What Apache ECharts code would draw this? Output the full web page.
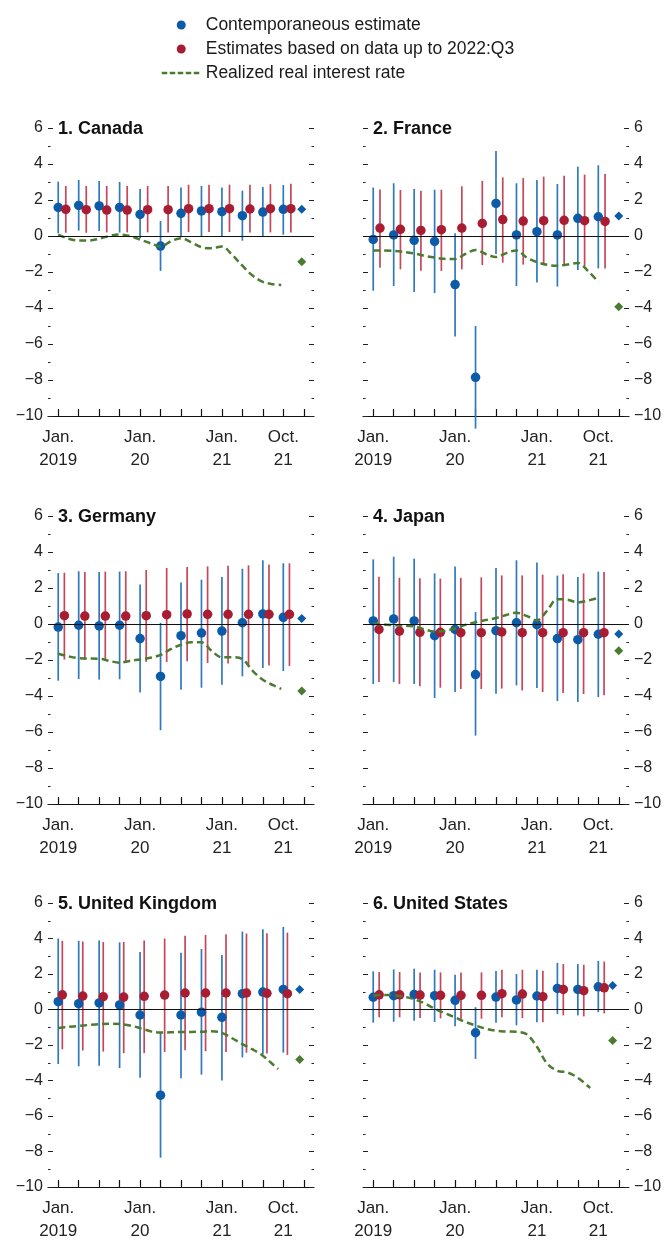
<!DOCTYPE html>
<html><head><meta charset="utf-8">
<script src="https://cdn.jsdelivr.net/npm/echarts@6/dist/echarts.min.js"></script>
<style>html,body{margin:0;padding:0;background:#fff}#c{width:666px;height:1243px}</style>
</head><body><div id="c"></div>
<script>
// ---------- axis data ----------
const tickPositions = [0,1,2,3,4,5,6,7,8,9,10,11,12]; // 2019:Q1 ... 2022:Q1
const labelPositions = [0,4,8,11];
const labelTexts = ['Jan.\n2019','Jan.\n20','Jan.\n21','Oct.\n21'];
const panelTitles = ['1. Canada','2. France','3. Germany','4. Japan','5. United Kingdom','6. United States'];
const legendNames = ['Contemporaneous estimate','Estimates based on data up to 2022:Q3','Realized real interest rate'];

// ---------- Canada ----------
const canadaBlue   = [1.59, 1.70, 1.67, 1.59, 1.20, -0.56, 1.26, 1.39, 1.35, 1.13, 1.33, 1.48];
const canadaBlueLo = [0.15, 0.30, 0.28, 0.19, -0.13, -1.94, -0.07, 0.00, 0.00, -0.26, -0.04, 0.07];
const canadaBlueHi = [3.02, 3.11, 3.06, 3.00, 2.61, 0.83, 2.69, 2.78, 2.70, 2.52, 2.72, 2.83];
const canadaRed    = [1.48, 1.46, 1.44, 1.44, 1.46, 1.46, 1.52, 1.52, 1.52, 1.50, 1.52, 1.52];
const canadaRedLo  = [0.18, 0.18, 0.20, 0.20, 0.20, 0.20, 0.22, 0.22, 0.22, 0.20, 0.20, 0.20];
const canadaRedHi  = [2.78, 2.78, 2.78, 2.78, 2.78, 2.78, 2.85, 2.85, 2.85, 2.85, 2.88, 2.90];
const canadaLatest = [1.48, -1.43]; // [estimate, realized] 2022:Q1
const canadaRealized = [[0,0.08],[0.5,-0.15],[1,-0.25],[1.5,-0.25],[2,-0.15],[2.5,0.0],[3,0.08],[3.5,0.0],[4,-0.2],[4.5,-0.4],[5,-0.58],[5.5,-0.3],[6,-0.12],[6.5,-0.35],[7,-0.62],[7.5,-0.68],[8,-0.58],[8.5,-1.05],[9,-1.65],[9.5,-2.2],[10,-2.55],[10.5,-2.68],[10.9,-2.72]];

// ---------- France ----------
const franceBlue   = [-0.19, 0.06, -0.24, -0.30, -2.70, -7.85, 1.81, 0.06, 0.24, 0.06, 0.98, 1.07];
const franceBlueLo = [-3.04, -2.78, -3.11, -3.17, -5.59, -10.7, -1.00, -2.78, -2.59, -2.81, -1.89, -1.80];
const franceBlueHi = [2.69, 2.93, 2.61, 2.57, 0.15, -5.00, 4.72, 2.93, 3.11, 2.89, 3.85, 3.93];
const franceRed    = [0.44, 0.37, 0.31, 0.35, 0.44, 0.70, 0.91, 0.83, 0.85, 0.87, 0.85, 0.81];
const franceRedLo  = [-1.76, -1.85, -1.93, -1.94, -1.85, -1.61, -1.48, -1.59, -1.52, -1.63, -1.67, -1.80];
const franceRedHi  = [2.59, 2.56, 2.52, 2.57, 2.76, 3.06, 3.26, 3.22, 3.30, 3.35, 3.41, 3.44];
const franceLatest = [1.11, -3.93];
const franceRealized = [[0,-0.8],[1,-0.83],[2,-0.97],[2.5,-1.1],[3,-1.2],[3.5,-1.27],[4,-1.28],[4.5,-1.0],[5,-0.78],[5.5,-1.0],[6,-1.17],[6.5,-0.95],[7,-0.8],[7.5,-1.2],[8,-1.45],[8.5,-1.6],[9,-1.65],[9.5,-1.58],[10,-1.5],[10.5,-1.95],[11,-2.55]];

// ---------- Germany ----------
const germanyBlue   = [-0.17, -0.07, -0.11, -0.07, -0.81, -2.91, -0.65, -0.50, -0.39, 0.07, 0.56, 0.37];
const germanyBlueLo = [-3.15, -3.06, -3.09, -3.07, -3.81, -5.90, -3.65, -3.54, -3.37, -2.91, -2.44, -2.61];
const germanyBlueHi = [2.83, 2.93, 2.89, 2.91, 2.19, 0.07, 2.30, 2.46, 2.61, 3.07, 3.54, 3.37];
const germanyRed    = [0.46, 0.44, 0.44, 0.44, 0.46, 0.52, 0.56, 0.54, 0.54, 0.54, 0.54, 0.54];
const germanyRedLo  = [-1.98, -1.98, -2.04, -2.07, -2.11, -2.11, -2.07, -2.17, -2.20, -2.26, -2.30, -2.33];
const germanyRedHi  = [2.85, 2.89, 2.91, 2.93, 3.00, 3.11, 3.17, 3.20, 3.24, 3.26, 3.31, 3.37];
const germanyLatest = [0.31, -3.72];
const germanyRealized = [[0,-1.65],[0.5,-1.8],[1,-1.9],[2,-1.93],[2.5,-2.05],[3,-2.15],[3.5,-2.05],[4,-1.97],[4.5,-1.88],[5,-1.72],[5.5,-1.4],[6,-1.15],[6.5,-1.02],[7,-1.02],[7.5,-1.5],[8,-1.85],[8.5,-1.85],[9,-1.95],[9.5,-2.6],[10,-3.1],[10.5,-3.4],[10.9,-3.6]];

// ---------- Japan ----------
const japanBlue   = [0.17, 0.28, 0.17, -0.65, -0.30, -2.81, -0.37, 0.07, -0.04, -0.81, -0.87, -0.57];
const japanBlueLo = [-3.33, -3.22, -3.33, -4.11, -3.78, -6.20, -3.87, -3.41, -3.56, -4.28, -4.33, -4.06];
const japanBlueHi = [3.59, 3.74, 3.63, 2.81, 3.19, 0.67, 3.11, 3.54, 3.41, 2.69, 2.61, 2.91];
const japanRed    = [-0.30, -0.39, -0.46, -0.46, -0.48, -0.48, -0.44, -0.48, -0.48, -0.48, -0.48, -0.48];
const japanRedLo  = [-3.22, -3.33, -3.46, -3.54, -3.61, -3.61, -3.59, -3.69, -3.78, -3.83, -3.89, -3.96];
const japanRedHi  = [2.63, 2.57, 2.54, 2.52, 2.56, 2.59, 2.70, 2.70, 2.74, 2.76, 2.81, 2.89];
const japanLatest = [-0.56, -1.48];
const japanRealized = [[0,0.02],[1,-0.07],[2,-0.13],[2.5,-0.3],[3,-0.42],[3.5,-0.38],[4,-0.25],[4.5,-0.05],[5,0.1],[5.5,0.22],[6,0.33],[6.5,0.5],[7,0.63],[7.5,0.45],[8,0.2],[8.5,0.75],[9,1.38],[9.5,1.35],[10,1.2],[10.5,1.3],[11,1.45]];

// ---------- United Kingdom ----------
const ukBlue   = [0.44, 0.33, 0.37, 0.26, -0.31, -4.83, -0.31, -0.15, -0.44, 0.89, 0.98, 1.13];
const ukBlueLo = [-3.07, -3.20, -3.17, -3.30, -3.85, -8.35, -3.87, -3.67, -4.00, -2.70, -2.52, -2.43];
const ukBlueHi = [4.00, 3.87, 3.89, 3.78, 3.24, -1.33, 3.20, 3.41, 3.07, 4.39, 4.52, 4.65];
const ukRed    = [0.83, 0.76, 0.72, 0.70, 0.74, 0.81, 0.93, 0.93, 0.93, 0.93, 0.91, 0.89];
const ukRedLo  = [-2.24, -2.31, -2.37, -2.46, -2.46, -2.39, -2.30, -2.35, -2.39, -2.43, -2.48, -2.56];
const ukRedHi  = [3.87, 3.83, 3.80, 3.81, 3.89, 4.00, 4.15, 4.20, 4.24, 4.28, 4.30, 4.33];
const ukLatest = [1.13, -2.81];
const ukRealized = [[0,-1.04],[0.5,-0.98],[1,-0.93],[1.5,-0.87],[2,-0.82],[2.5,-0.8],[3,-0.82],[3.5,-0.9],[4,-1.05],[4.5,-1.22],[5,-1.3],[6,-1.27],[7,-1.25],[7.5,-1.22],[8,-1.32],[8.5,-1.62],[9,-1.95],[9.5,-2.25],[10,-2.6],[10.4,-3.0],[10.75,-3.35]];

// ---------- United States ----------
const usBlue   = [0.69, 0.78, 0.85, 0.78, 0.52, -1.31, 0.70, 0.54, 0.76, 1.19, 1.13, 1.28];
const usBlueLo = [-0.74, -0.69, -0.63, -0.70, -0.94, -2.78, -0.74, -0.89, -0.72, -0.26, -0.33, -0.15];
const usBlueHi = [2.15, 2.26, 2.30, 2.24, 1.96, 0.13, 2.17, 2.00, 2.24, 2.63, 2.56, 2.74];
const usRed    = [0.83, 0.83, 0.81, 0.80, 0.80, 0.80, 0.89, 0.87, 0.72, 1.13, 1.06, 1.22];
const usRedLo  = [-0.44, -0.44, -0.48, -0.50, -0.54, -0.52, -0.44, -0.48, -0.72, -0.33, -0.39, -0.22];
const usRedHi  = [2.11, 2.11, 2.09, 2.09, 2.09, 2.09, 2.24, 2.24, 2.19, 2.56, 2.52, 2.70];
const usLatest = [1.35, -1.74];
const usRealized = [[0,0.78],[0.5,0.82],[1,0.8],[1.5,0.72],[2,0.58],[2.5,0.35],[3,0.05],[3.5,-0.2],[4,-0.45],[4.5,-0.7],[5,-0.9],[5.5,-1.08],[6,-1.2],[6.5,-1.24],[7,-1.26],[7.5,-1.4],[8,-2.1],[8.5,-3.05],[9,-3.45],[9.5,-3.55],[10,-3.85],[10.6,-4.42]];

// ---------- assembly ----------
const FONT = "'Liberation Sans', Arial, sans-serif";
const BLUE = '#0b5ba8', BLUE_BAR = '#2f79bd', RED = '#a81d32', RED_BAR = '#c4475a', GREEN = '#4b7b30';

const panels = [
  {blue: canadaBlue, blo: canadaBlueLo, bhi: canadaBlueHi, red: canadaRed, rlo: canadaRedLo, rhi: canadaRedHi, latest: canadaLatest, real: canadaRealized, off: 0.37, dx: 11.9},
  {blue: franceBlue, blo: franceBlueLo, bhi: franceBlueHi, red: franceRed, rlo: franceRedLo, rhi: franceRedHi, latest: franceLatest, real: franceRealized, off: 0.33, dx: 12.0},
  {blue: germanyBlue, blo: germanyBlueLo, bhi: germanyBlueHi, red: germanyRed, rlo: germanyRedLo, rhi: germanyRedHi, latest: germanyLatest, real: germanyRealized, off: 0.3, dx: 11.9},
  {blue: japanBlue, blo: japanBlueLo, bhi: japanBlueHi, red: japanRed, rlo: japanRedLo, rhi: japanRedHi, latest: japanLatest, real: japanRealized, off: 0.28, dx: 12.0},
  {blue: ukBlue, blo: ukBlueLo, bhi: ukBlueHi, red: ukRed, rlo: ukRedLo, rhi: ukRedHi, latest: ukLatest, real: ukRealized, off: 0.2, dx: 11.8},
  {blue: usBlue, blo: usBlueLo, bhi: usBlueHi, red: usRed, rlo: usRedLo, rhi: usRedHi, latest: usLatest, real: usRealized, off: 0.29, dx: 11.7}
];

const rowTops = [128, 516, 903];
const grids = [], xAxes = [], yAxes = [], series = [], titles = [];
const fmtY = v => v < 0 ? '\u2212' + Math.abs(v) : String(v);

function barRenderer(color) {
  return function (params, api) {
    const x = api.value(0);
    const p1 = api.coord([x, api.value(1)]);
    const p2 = api.coord([x, api.value(2)]);
    return {type: 'line', shape: {x1: p1[0], y1: p1[1], x2: p2[0], y2: p2[1]},
            style: {stroke: color, lineWidth: 1.7}};
  };
}

panels.forEach((p, i) => {
  const col = i % 2, row = Math.floor(i / 2);
  const left = col === 0 ? 48 : 363;
  grids.push({left: left, top: rowTops[row], width: 266, height: 288});
  titles.push({text: panelTitles[i], left: col === 0 ? 58 : 373, top: rowTops[row] - 9, padding: 0,
    textStyle: {fontFamily: FONT, fontSize: 18, fontWeight: 'bold', color: '#111', lineHeight: 20}});
  xAxes.push({gridIndex: i, type: 'value', min: -0.5, max: 12.5,
    axisLine: {show: true, onZero: false, lineStyle: {color: '#111', width: 1.2}},
    axisTick: {show: true, inside: true, length: 7, customValues: tickPositions, lineStyle: {color: '#111', width: 1.2}},
    axisLabel: {customValues: labelPositions, formatter: v => labelTexts[labelPositions.indexOf(v)],
      fontFamily: FONT, fontSize: 17, lineHeight: 23, color: '#222', margin: 10},
    splitLine: {show: false}});
  ['left', 'right'].forEach(pos => {
    const labeled = (col === 0 && pos === 'left') || (col === 1 && pos === 'right');
    yAxes.push({gridIndex: i, type: 'value', min: -10, max: 6, interval: 2, position: pos,
      axisLine: {show: false, onZero: false},
      axisTick: {show: true, inside: true, length: 5, lineStyle: {color: '#222'}},
      minorTick: {show: true, splitNumber: 2, length: 2.5, lineStyle: {color: '#222'}},
      splitLine: {show: false}, minorSplitLine: {show: false},
      axisLabel: {show: labeled, fontFamily: FONT, fontSize: 16, color: '#222', margin: 5, formatter: fmtY}});
  });
  const yi = 2 * i;
  series.push({type: 'custom', xAxisIndex: i, yAxisIndex: yi, silent: true, z: 2,
    renderItem: barRenderer(BLUE_BAR), encode: {x: 0, y: [1, 2]},
    data: p.blo.map((lo, k) => [k, lo, p.bhi[k]]),
    markLine: {silent: true, symbol: ['none', 'none'], label: {show: false},
      lineStyle: {color: '#111', width: 1, type: 'solid'}, data: [{yAxis: 0}]}});
  series.push({type: 'custom', xAxisIndex: i, yAxisIndex: yi, silent: true, z: 2,
    renderItem: barRenderer(RED_BAR), encode: {x: 0, y: [1, 2]},
    data: p.rlo.map((lo, k) => [k + p.off, lo, p.rhi[k]])});
  series.push({type: 'scatter', name: legendNames[0], xAxisIndex: i, yAxisIndex: yi, z: 3,
    symbolSize: 9.5, itemStyle: {color: BLUE, opacity: 1}, data: p.blue.map((v, k) => [k, v])});
  series.push({type: 'scatter', name: legendNames[1], xAxisIndex: i, yAxisIndex: yi, z: 3,
    symbolSize: 9.5, itemStyle: {color: RED, opacity: 1}, data: p.red.map((v, k) => [k + p.off, v])});
  series.push({type: 'scatter', name: 'latest', xAxisIndex: i, yAxisIndex: yi, z: 3,
    symbol: 'diamond', symbolSize: 9, itemStyle: {opacity: 1},
    data: [{value: [p.dx, p.latest[0]], itemStyle: {color: BLUE, opacity: 1}},
           {value: [p.dx, p.latest[1]], itemStyle: {color: GREEN, opacity: 1}}]});
  series.push({type: 'line', name: legendNames[2], xAxisIndex: i, yAxisIndex: yi, z: 4,
    smooth: 0.35, symbol: 'none', showSymbol: false,
    lineStyle: {color: GREEN, width: 2.5, type: [7, 4]}, itemStyle: {color: GREEN},
    data: p.real});
});

const chart = echarts.init(document.getElementById('c'), null, {renderer: 'canvas'});
chart.setOption({
  animation: false,
  backgroundColor: '#fff',
  title: titles,
  legend: {data: [legendNames[0], legendNames[1], {name: legendNames[2], itemStyle: {opacity: 0}}],
    orient: 'vertical', left: 155.5, top: 11, itemWidth: 39, itemHeight: 9, itemGap: 6,
    selectedMode: false,
    lineStyle: {type: [5.5, 2.5], width: 2.5},
    textStyle: {fontFamily: FONT, fontSize: 17.5, lineHeight: 18, color: '#1a1a1a'}},
  grid: grids, xAxis: xAxes, yAxis: yAxes, series: series
});
</script></body></html>
